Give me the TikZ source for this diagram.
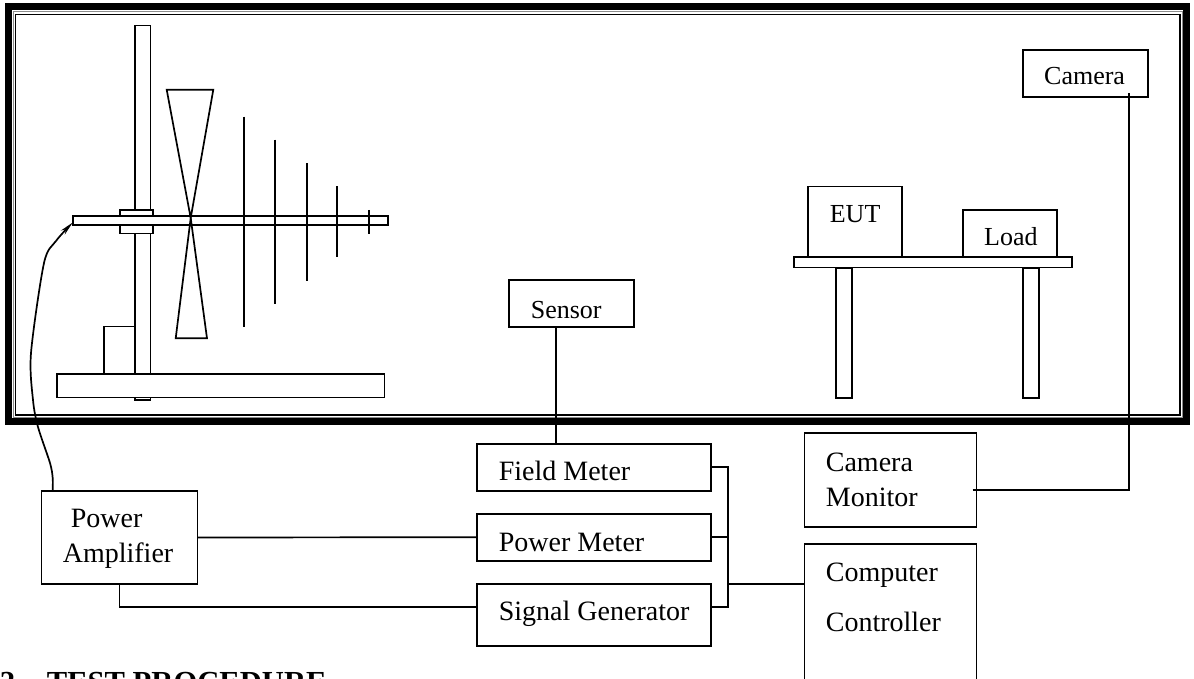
\documentclass[tikz,border=0pt]{standalone}
\usepackage{fontspec}
\setmainfont{Liberation Serif}
\usetikzlibrary{arrows.meta, calc}

\begin{document}
\begin{tikzpicture}[
  x=0.5pt, y=-0.5pt, line width=0.85pt,
  box/.style={draw, fill=white, inner sep=0pt, outer sep=0pt},
  lbl/.style={anchor=base west, inner sep=0pt, font=\fontsize{14}{16}\selectfont},
  lblsmall/.style={anchor=base west, inner sep=0pt, font=\fontsize{13}{15}\selectfont},
  wire/.style={draw, line width=0.85pt},
  cable/.style={-{Stealth[length=7pt,width=2.8pt]}, line width=0.85pt}
]
\useasboundingbox (0,0) rectangle (1194,679);
\clip (0,0) rectangle (1194,679);

% chamber walls
\node[box, fill=none, line width=3.5pt, minimum width=588.85pt, minimum height=207.45pt] (wall) at (597.65,214.15) {};
\node[box, fill=none, draw=black!45, line width=0.5pt, minimum width=584.5pt, minimum height=202.85pt] (wallmid) at (597.5,214.15) {};
\node[box, fill=none, minimum width=582.25pt, minimum height=200.25pt] (wallin) at (597.75,214.75) {};

% antenna on its mast
\node[box, minimum width=7.8pt, minimum height=187.3pt] (mast) at (142.8,212.8) {};
\node[box, minimum width=163.8pt, minimum height=11.9pt] (base) at (220.7,385.6) {};
\node[box, minimum width=15.7pt, minimum height=23.7pt] (motor) at (119.4,350.3) {};
\node[box, minimum width=16.5pt, minimum height=11.9pt] (clamp) at (136.2,221.6) {};
\node[box, minimum width=157.8pt, minimum height=4.7pt] (boom) at (230.5,220.6) {};
\coordinate (feed) at (190.7,218);
\draw (feed) -- (166.7,89.7) -- (213.3,89.7) -- cycle;
\draw (feed) -- (175.7,338.3) -- (207,338.3) -- cycle;
\foreach \ex/\etop/\ebot in {244/116.7/327.3, 275.3/139.7/304, 306.7/163.3/280.7, 337.3/186.3/257.3, 369/210/233.7}
  \draw (\ex,\etop) -- (\ex,\ebot);

% table
\node[box, minimum width=47pt, minimum height=35.2pt] (eut) at (855.3,221.8) {};
\node[box, minimum width=46.9pt, minimum height=23.5pt] (load) at (1010.2,233.2) {};
\node[box, minimum width=139.3pt, minimum height=5.3pt] (top) at (933,262.3) {};
\node[box, minimum width=8pt, minimum height=65pt] (legl) at (843.7,332.7) {};
\node[box, minimum width=8pt, minimum height=65pt] (legr) at (1030.7,332.7) {};
\node[lblsmall] (euttxt) at (829,222.7) {EUT};
\node[lblsmall] (loadtxt) at (983.3,246) {Load};

% boxes
\node[box, minimum width=62.8pt, minimum height=23.5pt] (camera) at (1085.5,73.2) {};
\node[box, minimum width=62.8pt, minimum height=23.5pt] (sensor) at (571.5,303.5) {};
\node[box, minimum width=78pt, minimum height=46.8pt] (amp) at (119.5,537.5) {};
\node[box, minimum width=117pt, minimum height=23.4pt] (fieldmeter) at (594.3,467.3) {};
\node[box, minimum width=117pt, minimum height=23.5pt] (powermeter) at (594.3,537.2) {};
\node[box, minimum width=117pt, minimum height=31pt] (siggen) at (594.3,615) {};
\node[box, minimum width=86pt, minimum height=47pt] (monitor) at (890.5,480.3) {};
\node[box, minimum width=86pt, minimum height=78pt] (computer) at (890.5,622) {};

\node[lblsmall] (cameratxt) at (1043.3,85) {Camera};
\node[lblsmall] (sensortxt) at (530,318.3) {Sensor};
\node[lbl] (amptxta) at (70,527.7) {Power};
\node[lbl] (amptxtb) at (62,562.7) {Amplifier};
\node[lbl] (fieldtxt) at (498,480) {Field Meter};
\node[lbl] (powertxt) at (498,551.7) {Power Meter};
\node[lbl] (sigtxt) at (498,620.7) {Signal Generator};
\node[lbl] (montxta) at (825,471.7) {Camera};
\node[lbl] (montxtb) at (825,506) {Monitor};
\node[lbl] (comptxta) at (825,581.7) {Computer};
\node[lbl] (comptxtb) at (825,631.7) {Controller};
\node[anchor=base west, inner sep=0pt, font=\fontsize{15.3}{17}\selectfont\bfseries] (headnum) at (-1,692) {2};
\node[anchor=base west, inner sep=0pt, font=\fontsize{15.3}{17}\selectfont\bfseries] (headtxt) at (46,692) {TEST PROCEDURE};

% connections
\coordinate (bus) at (728,584);
\coordinate (sensorout) at ([xshift=-7.9pt]sensor.south);
\coordinate (cameraout) at ([shift={(21.6pt,2pt)}]camera.south);
\draw[wire] (sensorout) -- (sensorout |- fieldmeter.north);
\draw[wire] (amp.east) -- (powermeter.west);
\draw[wire] (amp.south) |- ([yshift=4pt]siggen.west);
\draw[wire] (fieldmeter.east) -| (bus);
\draw[wire] (powermeter.east) -| (bus);
\draw[wire] ([yshift=4pt]siggen.east) -| (bus);
\draw[wire] (bus) -- (bus -| computer.west);
\draw[wire] ([shift={(-2pt,-5pt)}]monitor.east) -| (cameraout);
\coordinate (cablefoot) at ([xshift=-33.4pt]amp.north);
\coordinate (cablehead) at ([yshift=-1pt]boom.west);
\draw[cable] plot[smooth, tension=0.5] coordinates {(cablefoot) (52.7,478) (50,463) (38,427) (33,400) (31,353) (44,263) (56,241) (cablehead)};
\end{tikzpicture}
\end{document}
